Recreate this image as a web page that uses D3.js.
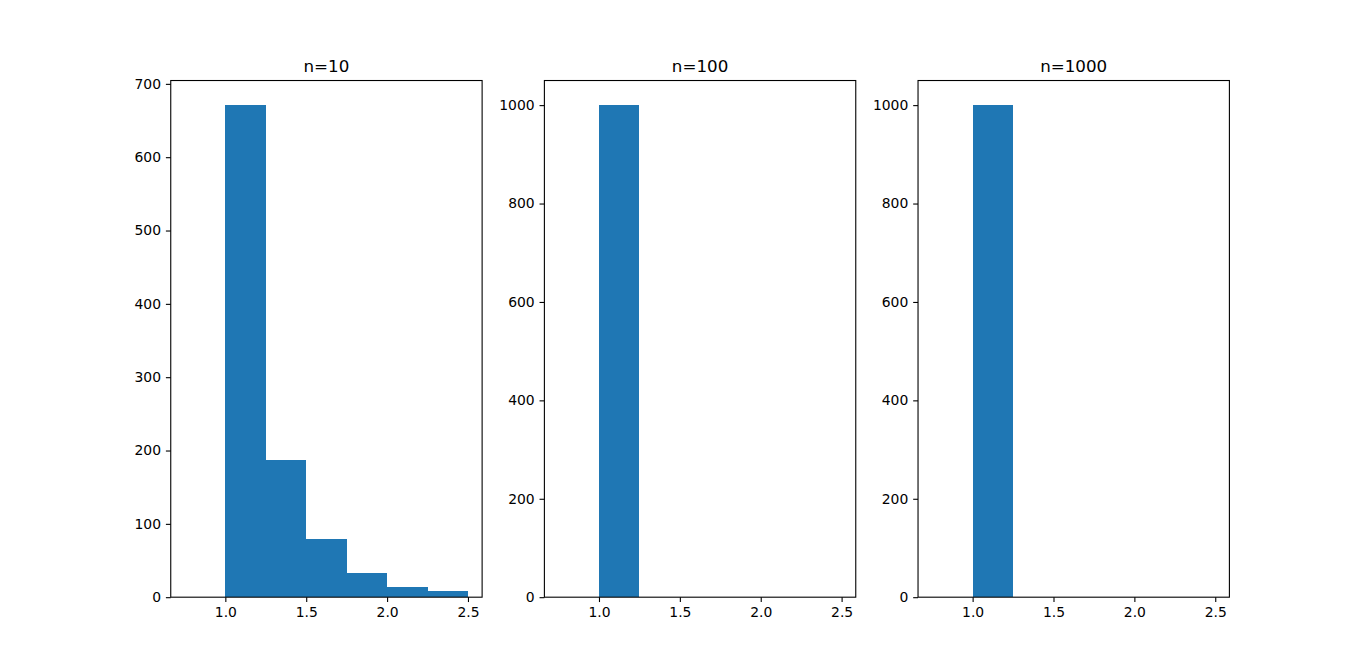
<!DOCTYPE html>
<html>
<head>
<meta charset="utf-8">
<script src="https://cdn.jsdelivr.net/npm/d3@7"></script>
<style>
  html, body { margin: 0; padding: 0; background: #fff; }
  svg text { font-family: "DejaVu Sans", sans-serif; fill: #000; }
</style>
</head>
<body>
<div id="chart"></div>
<script>
// bin edges shared by all three histograms
var binEdges = [0.75, 1.0, 1.25, 1.5, 1.75, 2.0, 2.25, 2.5];
var titles = ["n=10", "n=100", "n=1000"];
var counts10 = [0, 671, 187, 79, 33, 14, 8];
var counts100 = [0, 1000, 0, 0, 0, 0, 0];
var counts1000 = [0, 1000, 0, 0, 0, 0, 0];
var xTicks = [1.0, 1.5, 2.0, 2.5];
var yTicks10 = [0, 100, 200, 300, 400, 500, 600, 700];
var yTicks100 = [0, 200, 400, 600, 800, 1000];

(function () {
    "use strict";

    var W = 1366, H = 671;
    var figLeft = 0.125 * W, figRight = 0.9 * W;
    var figTop = (1 - 0.88) * H, figBottom = (1 - 0.11) * H;
    var panelW = (figRight - figLeft) / 3.4, gap = panelW * 0.2;

    var panels = [
        { title: titles[0], counts: counts10, yTicks: yTicks10 },
        { title: titles[1], counts: counts100, yTicks: yTicks100 },
        { title: titles[2], counts: counts1000, yTicks: yTicks100 }
    ];

    var svg = d3.select("#chart").append("svg")
        .attr("width", W)
        .attr("height", H);

    panels.forEach(function (p, i) {
        var x0 = figLeft + i * (panelW + gap);
        var g = svg.append("g").attr("transform", "translate(" + x0 + "," + figTop + ")");
        var h = figBottom - figTop;

        var lo = binEdges[0], hi = binEdges[binEdges.length - 1];
        var pad = (hi - lo) * 0.05;
        var x = d3.scaleLinear().domain([lo - pad, hi + pad]).range([0, panelW]);
        var y = d3.scaleLinear().domain([0, d3.max(p.counts) * 1.05]).range([h, 0]);

        var bins = p.counts.map(function (c, k) {
            return { x0: binEdges[k], x1: binEdges[k + 1], n: c };
        });

        g.selectAll("rect.bar").data(bins).enter().append("rect")
            .attr("class", "bar")
            .attr("x", function (d) { return x(d.x0); })
            .attr("width", function (d) { return x(d.x1) - x(d.x0); })
            .attr("y", function (d) { return y(d.n); })
            .attr("height", function (d) { return h - y(d.n); })
            .attr("fill", "#1f77b4")
            .attr("shape-rendering", "crispEdges");

        var xa = g.append("g")
            .attr("transform", "translate(0," + h + ")")
            .call(d3.axisBottom(x).tickValues(xTicks).tickFormat(d3.format(".1f"))
                .tickSize(4.86).tickPadding(4.9));
        var ya = g.append("g")
            .call(d3.axisLeft(y).tickValues(p.yTicks).tickFormat(d3.format("d"))
                .tickSize(4.86).tickPadding(4.9));

        [xa, ya].forEach(function (a) {
            a.attr("font-size", null).attr("font-family", null);
            a.select(".domain").remove();
            a.selectAll(".tick line").attr("stroke", "#000").attr("stroke-width", 1.1);
            a.selectAll(".tick text")
                .attr("font-size", "13.9px")
                .attr("font-family", "DejaVu Sans, sans-serif");
        });

        // frame
        g.append("rect")
            .attr("width", panelW)
            .attr("height", h)
            .attr("fill", "none")
            .attr("stroke", "#000")
            .attr("stroke-width", 1.1);

        g.append("text")
            .attr("x", panelW / 2)
            .attr("y", -8.3)
            .attr("text-anchor", "middle")
            .attr("font-size", "16.7px")
            .text(p.title);
    });
})();
</script>
</body>
</html>
